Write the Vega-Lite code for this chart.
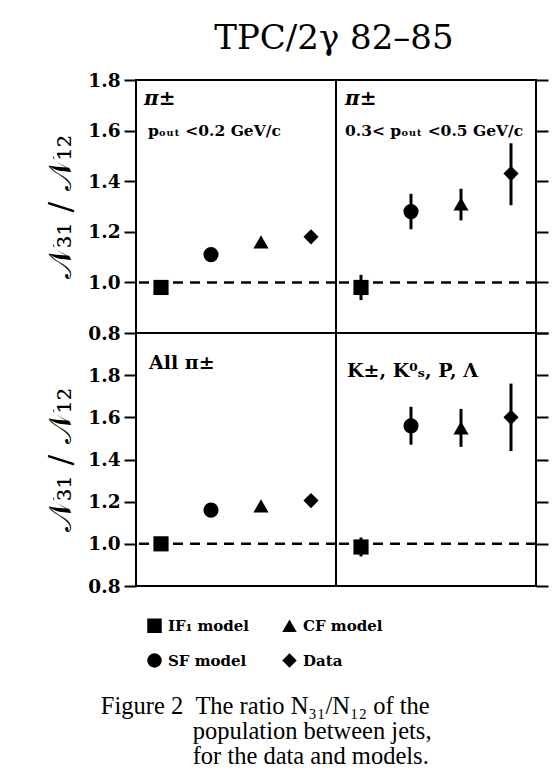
{
  "$schema": "https://vega.github.io/schema/vega-lite/v6.json",
  "background": "white",
  "padding": {"left": 43, "top": 22, "right": 5, "bottom": 5},
  "datasets": {
    "pts": [
      {"panel": "tl", "model": "IF₁ model", "ratio": 0.98},
      {"panel": "tl", "model": "SF model", "ratio": 1.11},
      {"panel": "tl", "model": "CF model", "ratio": 1.16},
      {"panel": "tl", "model": "Data", "ratio": 1.18},
      {"panel": "tr", "model": "IF₁ model", "ratio": 0.98, "lo": 0.93, "hi": 1.03},
      {"panel": "tr", "model": "SF model", "ratio": 1.28, "lo": 1.21, "hi": 1.35},
      {"panel": "tr", "model": "CF model", "ratio": 1.31, "lo": 1.245, "hi": 1.37},
      {"panel": "tr", "model": "Data", "ratio": 1.43, "lo": 1.305, "hi": 1.55},
      {"panel": "bl", "model": "IF₁ model", "ratio": 1.0},
      {"panel": "bl", "model": "SF model", "ratio": 1.16},
      {"panel": "bl", "model": "CF model", "ratio": 1.18},
      {"panel": "bl", "model": "Data", "ratio": 1.205},
      {"panel": "br", "model": "IF₁ model", "ratio": 0.985, "lo": 0.94, "hi": 1.03},
      {"panel": "br", "model": "SF model", "ratio": 1.56, "lo": 1.47, "hi": 1.65},
      {"panel": "br", "model": "CF model", "ratio": 1.55, "lo": 1.46, "hi": 1.64},
      {"panel": "br", "model": "Data", "ratio": 1.6, "lo": 1.44, "hi": 1.76}
    ],
    "ref": [{"ratio": 1.0}],
    "labels": [
      {"panel": "tl", "line": 1, "text": "π±"},
      {"panel": "tl", "line": 2, "text": "pₒᵤₜ <0.2 GeV/c"},
      {"panel": "tr", "line": 1, "text": "π±"},
      {"panel": "tr", "line": 2, "text": "0.3< pₒᵤₜ <0.5 GeV/c"},
      {"panel": "bl", "line": 1, "text": "All π±"},
      {"panel": "br", "line": 1, "text": "K±, K⁰ₛ, P, Λ"}
    ]
  },
  "title": {
    "text": [
      "Figure 2\u00a0\u00a0The ratio N₃₁/N₁₂ of the",
      "\u200b\u00a0\u00a0\u00a0\u00a0\u00a0\u00a0\u00a0\u00a0\u00a0\u00a0\u00a0\u00a0\u00a0\u00a0\u00a0population between jets,",
      "\u200b\u00a0\u00a0\u00a0\u00a0\u00a0\u00a0\u00a0\u00a0\u00a0\u00a0\u00a0\u00a0\u00a0\u00a0\u00a0for the data and models."
    ],
    "orient": "bottom",
    "anchor": "start",
    "font": "Liberation Serif",
    "fontSize": 24.5,
    "fontWeight": "normal",
    "lineHeight": 25,
    "color": "black",
    "offset": 15,
    "dx": 57
  },
  "vconcat": [
    {
      "title": {"text": "TPC/2γ  82–85", "anchor": "middle", "font": "DejaVu Serif", "fontSize": 34, "fontWeight": "normal", "color": "black", "offset": 14, "dx": 37},
      "columns": 2,
      "spacing": 0,
      "bounds": "flush",
      "concat": [
        {
          "width": 200, "height": 253,
          "layer": [
            {"data": {"name": "ref"}, "mark": {"type": "rule", "strokeDash": [10, 7], "strokeWidth": 2.5, "color": "black"},
             "encoding": {"y": {"field": "ratio", "type": "quantitative", "scale": {"domain": [0.8, 1.8], "nice": false, "zero": false},
               "axis": {"orient": "left", "values": [0.8, 1.0, 1.2, 1.4, 1.6, 1.8], "format": ".1f", "title": "𝒩₃₁ / 𝒩₁₂", "titlePadding": 10}}}},
            {"data": {"name": "pts"}, "transform": [{"filter": "datum.panel === 'tl'"}],
             "mark": {"type": "point", "filled": true, "opacity": 1, "color": "black", "size": 230},
             "encoding": {
               "x": {"field": "model", "type": "nominal", "scale": {"type": "point", "domain": ["IF₁ model", "SF model", "CF model", "Data"], "padding": 0.5}, "axis": null},
               "y": {"field": "ratio", "type": "quantitative"},
               "shape": {"field": "model", "type": "nominal", "scale": {"domain": ["IF₁ model", "CF model", "SF model", "Data"], "range": ["square", "triangle-up", "circle", "diamond"]}, "title": null}
             }},
            {"data": {"name": "labels"}, "transform": [{"filter": "datum.panel === 'tl' && datum.line === 1"}],
             "mark": {"type": "text", "align": "left", "baseline": "middle", "dx": -17, "font": "DejaVu Serif", "fontSize": 20, "fontWeight": "bold", "fontStyle": "italic", "color": "black"},
             "encoding": {"x": {"datum": "IF₁ model"}, "y": {"datum": 1.725}, "text": {"field": "text"}}},
            {"data": {"name": "labels"}, "transform": [{"filter": "datum.panel === 'tl' && datum.line === 2"}],
             "mark": {"type": "text", "align": "left", "baseline": "middle", "dx": -13, "font": "DejaVu Serif", "fontSize": 15.5, "fontWeight": "bold", "color": "black"},
             "encoding": {"x": {"datum": "IF₁ model"}, "y": {"datum": 1.6}, "text": {"field": "text"}}}
          ]
        },
        {
          "width": 200, "height": 253,
          "layer": [
            {"data": {"name": "ref"}, "mark": {"type": "rule", "strokeDash": [10, 7], "strokeWidth": 2.5, "color": "black"},
             "encoding": {"y": {"field": "ratio", "type": "quantitative", "scale": {"domain": [0.8, 1.8], "nice": false, "zero": false},
               "axis": {"orient": "right", "values": [0.8, 1.0, 1.2, 1.4, 1.6, 1.8], "labels": false, "title": null}}}},
            {"data": {"name": "pts"}, "transform": [{"filter": "datum.panel === 'tr'"}],
             "mark": {"type": "rule", "strokeWidth": 3, "color": "black"},
             "encoding": {
               "x": {"field": "model", "type": "nominal", "scale": {"type": "point", "domain": ["IF₁ model", "SF model", "CF model", "Data"], "padding": 0.5}, "axis": null},
               "y": {"field": "lo", "type": "quantitative"},
               "y2": {"field": "hi"}
             }},
            {"data": {"name": "pts"}, "transform": [{"filter": "datum.panel === 'tr'"}],
             "mark": {"type": "point", "filled": true, "opacity": 1, "color": "black", "size": 230},
             "encoding": {
               "x": {"field": "model", "type": "nominal", "axis": null},
               "y": {"field": "ratio", "type": "quantitative"},
               "shape": {"field": "model", "type": "nominal", "title": null}
             }},
            {"data": {"name": "labels"}, "transform": [{"filter": "datum.panel === 'tr' && datum.line === 1"}],
             "mark": {"type": "text", "align": "left", "baseline": "middle", "dx": -16, "font": "DejaVu Serif", "fontSize": 20, "fontWeight": "bold", "fontStyle": "italic", "color": "black"},
             "encoding": {"x": {"datum": "IF₁ model"}, "y": {"datum": 1.725}, "text": {"field": "text"}}},
            {"data": {"name": "labels"}, "transform": [{"filter": "datum.panel === 'tr' && datum.line === 2"}],
             "mark": {"type": "text", "align": "left", "baseline": "middle", "dx": -16, "font": "DejaVu Serif", "fontSize": 15.5, "fontWeight": "bold", "color": "black"},
             "encoding": {"x": {"datum": "IF₁ model"}, "y": {"datum": 1.6}, "text": {"field": "text"}}}
          ]
        },
        {
          "width": 200, "height": 253,
          "layer": [
            {"data": {"name": "ref"}, "mark": {"type": "rule", "strokeDash": [10, 7], "strokeWidth": 2.5, "color": "black"},
             "encoding": {"y": {"field": "ratio", "type": "quantitative", "scale": {"domain": [0.8, 2.0], "nice": false, "zero": false},
               "axis": {"orient": "left", "values": [0.8, 1.0, 1.2, 1.4, 1.6, 1.8], "format": ".1f", "title": "𝒩₃₁ / 𝒩₁₂", "titlePadding": 10}}}},
            {"data": {"name": "pts"}, "transform": [{"filter": "datum.panel === 'bl'"}],
             "mark": {"type": "point", "filled": true, "opacity": 1, "color": "black", "size": 230},
             "encoding": {
               "x": {"field": "model", "type": "nominal", "scale": {"type": "point", "domain": ["IF₁ model", "SF model", "CF model", "Data"], "padding": 0.5}, "axis": null},
               "y": {"field": "ratio", "type": "quantitative"},
               "shape": {"field": "model", "type": "nominal", "title": null}
             }},
            {"data": {"name": "labels"}, "transform": [{"filter": "datum.panel === 'bl'"}],
             "mark": {"type": "text", "align": "left", "baseline": "middle", "dx": -12, "font": "DejaVu Serif", "fontSize": 19, "fontWeight": "bold", "color": "black"},
             "encoding": {"x": {"datum": "IF₁ model"}, "y": {"datum": 1.86}, "text": {"field": "text"}}}
          ]
        },
        {
          "width": 200, "height": 253,
          "layer": [
            {"data": {"name": "ref"}, "mark": {"type": "rule", "strokeDash": [10, 7], "strokeWidth": 2.5, "color": "black"},
             "encoding": {"y": {"field": "ratio", "type": "quantitative", "scale": {"domain": [0.8, 2.0], "nice": false, "zero": false},
               "axis": {"orient": "right", "values": [0.8, 1.0, 1.2, 1.4, 1.6, 1.8, 2.0], "labels": false, "title": null}}}},
            {"data": {"name": "pts"}, "transform": [{"filter": "datum.panel === 'br'"}],
             "mark": {"type": "rule", "strokeWidth": 3, "color": "black"},
             "encoding": {
               "x": {"field": "model", "type": "nominal", "scale": {"type": "point", "domain": ["IF₁ model", "SF model", "CF model", "Data"], "padding": 0.5}, "axis": null},
               "y": {"field": "lo", "type": "quantitative"},
               "y2": {"field": "hi"}
             }},
            {"data": {"name": "pts"}, "transform": [{"filter": "datum.panel === 'br'"}],
             "mark": {"type": "point", "filled": true, "opacity": 1, "color": "black", "size": 230},
             "encoding": {
               "x": {"field": "model", "type": "nominal", "axis": null},
               "y": {"field": "ratio", "type": "quantitative"},
               "shape": {"field": "model", "type": "nominal", "title": null}
             }},
            {"data": {"name": "labels"}, "transform": [{"filter": "datum.panel === 'br'"}],
             "mark": {"type": "text", "align": "left", "baseline": "middle", "dx": -14, "font": "DejaVu Serif", "fontSize": 19, "fontWeight": "bold", "color": "black"},
             "encoding": {"x": {"datum": "IF₁ model"}, "y": {"datum": 1.82}, "text": {"field": "text"}}}
          ]
        }
      ]
    }
  ],
  "config": {
    "view": {"stroke": "black", "strokeWidth": 2},
    "concat": {"spacing": 0},
    "axis": {
      "grid": false, "domain": false, "ticks": true, "tickSize": 12, "tickWidth": 2, "tickColor": "black",
      "labelFont": "DejaVu Serif", "labelFontWeight": "bold", "labelFontSize": 18.5, "labelColor": "black", "labelPadding": 4,
      "titleFont": "DejaVu Serif", "titleFontWeight": "normal", "titleFontSize": 32, "titleColor": "black"
    },
    "legend": {
      "orient": "bottom", "columns": 2, "title": null, "padding": 11,
      "symbolSize": 210, "symbolFillColor": "black", "symbolStrokeColor": "black", "symbolStrokeWidth": 0,
      "labelFont": "DejaVu Serif", "labelFontWeight": "bold", "labelFontSize": 15, "labelColor": "black", "labelLimit": 300,
      "rowPadding": 19, "columnPadding": 32, "labelOffset": 6, "offset": 10
    }
  }
}
